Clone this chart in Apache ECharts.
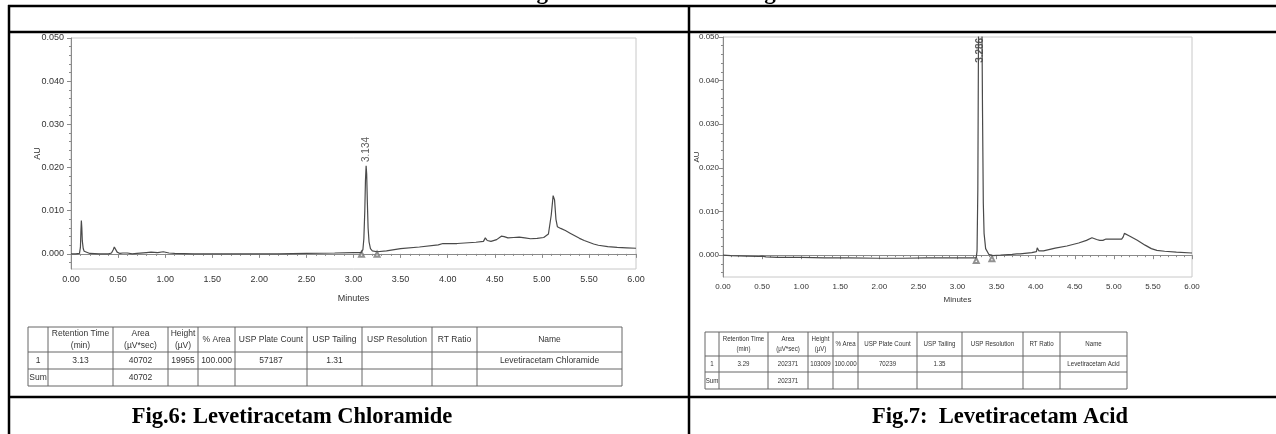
<!DOCTYPE html>
<html><head><meta charset="utf-8">
<script src="https://cdn.jsdelivr.net/npm/echarts@6/dist/echarts.min.js"></script>
<style>html,body{margin:0;padding:0;background:#fff}#c{width:1276px;height:434px}</style>
</head><body><div id="c"></div>
<script>
// ---------- DATA ----------
const leftTrace = [[0.00,0.0000],[0.05,0.0000],[0.09,0.0001],[0.10,0.0015],[0.105,0.0050],[0.11,0.0077],[0.115,0.0060],[0.12,0.0030],[0.13,0.0012],[0.14,0.0006],[0.16,0.0003],[0.20,0.0001],[0.30,0.0000],[0.40,0.0000],[0.43,0.0002],[0.45,0.0010],[0.46,0.0016],[0.47,0.0012],[0.49,0.0004],[0.52,0.0001],[0.55,0.0002],[0.57,0.0004],[0.60,0.0002],[0.65,0.0000],[0.70,0.0001],[0.80,0.0003],[0.85,0.0004],[0.92,0.0003],[0.98,0.0005],[1.00,0.0005],[1.04,0.0002],[1.10,0.0001],[1.30,0.0000],[1.60,0.0000],[1.90,0.0000],[2.20,0.0000],[2.50,0.0001],[2.80,0.0002],[3.00,0.0003],[3.08,0.0003],[3.10,0.0010],[3.11,0.0035],[3.12,0.0100],[3.127,0.0170],[3.134,0.0204],[3.14,0.0185],[3.147,0.0120],[3.155,0.0060],[3.165,0.0028],[3.18,0.0012],[3.20,0.0007],[3.25,0.0005],[3.35,0.0007],[3.50,0.0012],[3.70,0.0016],[3.90,0.0021],[3.95,0.0024],[3.97,0.0022],[4.10,0.0024],[4.30,0.0027],[4.38,0.0029],[4.40,0.0037],[4.42,0.0031],[4.46,0.0029],[4.52,0.0033],[4.57,0.0041],[4.60,0.0040],[4.64,0.0037],[4.70,0.0038],[4.76,0.0039],[4.82,0.0037],[4.88,0.0035],[4.95,0.0036],[5.02,0.0038],[5.07,0.0046],[5.10,0.0090],[5.12,0.0135],[5.135,0.0125],[5.15,0.0080],[5.165,0.0063],[5.20,0.0059],[5.25,0.0054],[5.30,0.0048],[5.35,0.0042],[5.40,0.0036],[5.45,0.0031],[5.50,0.0027],[5.55,0.0023],[5.60,0.0020],[5.70,0.0017],[5.80,0.0015],[5.90,0.0014],[6.00,0.0013]];
const rightTrace = [[0.00,0.0000],[0.10,-0.0001],[0.30,-0.0002],[0.46,-0.0003],[0.48,0.0001],[0.50,-0.0002],[0.55,-0.0004],[0.70,-0.0005],[1.00,-0.0005],[1.30,-0.0006],[1.60,-0.0006],[2.00,-0.0007],[2.30,-0.0007],[2.60,-0.0006],[3.00,-0.0006],[3.20,-0.0006],[3.24,-0.0006],[3.25,0.0010],[3.26,0.0150],[3.27,0.0560],[3.28,0.0950],[3.286,0.1030],[3.29,0.1010],[3.30,0.0880],[3.31,0.0600],[3.32,0.0330],[3.33,0.0120],[3.34,0.0050],[3.36,0.0015],[3.40,0.0002],[3.45,-0.0001],[3.55,0.0000],[3.70,0.0002],[3.76,0.0003],[3.78,0.0006],[3.80,0.0003],[3.95,0.0006],[4.01,0.0008],[4.02,0.0017],[4.04,0.0010],[4.10,0.0010],[4.25,0.0016],[4.40,0.0021],[4.55,0.0028],[4.65,0.0034],[4.72,0.0040],[4.78,0.0036],[4.82,0.0034],[4.86,0.0034],[4.90,0.0037],[5.00,0.0037],[5.10,0.0037],[5.12,0.0042],[5.135,0.0050],[5.20,0.0044],[5.30,0.0034],[5.40,0.0023],[5.48,0.0015],[5.55,0.0011],[5.65,0.0009],[5.80,0.0007],[6.00,0.0005]];
const leftPeakLabel = [[3.134, 0.0207]];
const rightPeakLabel = [[3.286, 0.0435]];
const leftMarks = [[3.085, -0.0001], [3.25, -0.0001]];
const rightMarks = [[3.24, -0.0012], [3.44, -0.0008]];
const yMajorTicks = [0, 0.01, 0.02, 0.03, 0.04, 0.05];
const yMinorTicksL = [-0.002, 0.002, 0.004, 0.006, 0.008, 0.012, 0.014, 0.016, 0.018, 0.022, 0.024, 0.026, 0.028, 0.032, 0.034, 0.036, 0.038, 0.042, 0.044, 0.046, 0.048];
const yMinorTicksR = [-0.004, -0.002, 0.002, 0.004, 0.006, 0.008, 0.012, 0.014, 0.016, 0.018, 0.022, 0.024, 0.026, 0.028, 0.032, 0.034, 0.036, 0.038, 0.042, 0.044, 0.046, 0.048];
const tableHeader = ["", "Retention Time\n(min)", "Area\n(\u00b5V*sec)", "Height\n(\u00b5V)", "% Area", "USP Plate Count", "USP Tailing", "USP Resolution", "RT Ratio", "Name"];
const leftRow = ["1", "3.13", "40702", "19955", "100.000", "57187", "1.31", "", "", "Levetiracetam Chloramide"];
const leftSum = ["Sum", "", "40702", "", "", "", "", "", "", ""];
const rightRow = ["1", "3.29", "202371", "103009", "100.000", "70239", "1.35", "", "", "Levetiracetam Acid"];
const rightSum = ["Sum", "", "202371", "", "", "", "", "", "", ""];
const captions = ["Fig.6: Levetiracetam Chloramide", "Fig.7:  Levetiracetam Acid"];
const topTitle = "Figure: HPLC Chromatograms";

// ---------- LAYOUT ----------
const LCOLS = [28, 48, 113, 168, 198, 235, 307, 362, 432, 477, 622];
const LROWS = [327, 352, 369, 386];
const RCOLS = [705, 719, 768, 808, 833, 858, 917, 962, 1023, 1060, 1127];
const RROWS = [332, 356, 372, 389];

function table(cols, rows, data, font, fs, sx) {
  const els = [];
  const stroke = '#666';
  for (const y of rows) els.push({type:'line', shape:{x1:cols[0], y1:y, x2:cols[cols.length-1], y2:y}, style:{stroke, lineWidth:1}});
  for (const x of cols) els.push({type:'line', shape:{x1:x, y1:rows[0], x2:x, y2:rows[rows.length-1]}, style:{stroke, lineWidth:1}});
  data.forEach((row, r) => {
    row.forEach((t, c) => {
      if (!t) return;
      els.push({type:'text', x:(cols[c]+cols[c+1])/2, y:(rows[r]+rows[r+1])/2, scaleX:sx,
        style:{text:t, fill:'#333', font: font, align:'center', verticalAlign:'middle', lineHeight: fs+3}});
    });
  });
  return els;
}

const frame = [
  [8, 6, 1276, 6], [8, 32, 1276, 32], [8, 397, 1276, 397], [9, 5, 9, 434], [689, 6, 689, 434]
].map(s => ({type:'line', shape:{x1:s[0], y1:s[1], x2:s[2], y2:s[3]}, style:{stroke:'#000', lineWidth:2.5}}));

const axisColor = '#8a8a8a';
function xAx(gi, gap, fs) {
  return {type:'value', gridIndex:gi, min:0, max:6, interval:0.5, name:'Minutes', nameLocation:'middle', nameGap:gap,
    nameMoveOverlap:false,
    nameTextStyle:{fontSize:fs, color:'#333', fontFamily:'Liberation Sans'},
    axisLine:{lineStyle:{color:axisColor}}, axisTick:{length:4, lineStyle:{color:axisColor}},
    minorTick:{show:true, splitNumber:5, length:2, lineStyle:{color:axisColor}},
    axisLabel:{fontSize:fs, color:'#333', margin:6, fontFamily:'Liberation Sans', formatter: v => v.toFixed(2)},
    splitLine:{show:false}, minorSplitLine:{show:false}};
}
function yAx(gi, min, gap, fs, margin) {
  return {type:'value', gridIndex:gi, min:min, max:0.05, name:'AU', nameLocation:'middle', nameGap:gap,
    nameMoveOverlap:false,
    nameTextStyle:{fontSize:fs, color:'#333', fontFamily:'Liberation Sans'},
    axisLine:{show:true, lineStyle:{color:axisColor}},
    axisTick:{show:true, length:4, customValues:yMajorTicks, lineStyle:{color:axisColor}},
    axisLabel:{fontSize:fs, color:'#333', margin:margin, fontFamily:'Liberation Sans', customValues:yMajorTicks, formatter: v => v.toFixed(3)},
    splitLine:{show:false}};
}
function yMinor(gi, min, ticks) {
  return {type:'value', gridIndex:gi, min:min, max:0.05, position:'left',
    axisLine:{show:false}, axisTick:{show:true, length:2, customValues:ticks, lineStyle:{color:axisColor}},
    axisLabel:{show:false}, splitLine:{show:false}};
}
const lineStyle = {color:'#4a4a4a', width:1.2};
const peakLabel = (fs, fw) => ({show:true, position:'top', distance:2, rotate:90, align:'left', verticalAlign:'middle',
  fontSize:fs, fontWeight:fw, color:'#333', fontFamily:'Liberation Sans', formatter: p => p.value[0].toFixed(3)});

const chart = echarts.init(document.getElementById('c'), null, {renderer:'canvas'});
chart.setOption({
  animation:false,
  grid:[
    {left:71, top:38, width:565, height:231, show:true, borderColor:'#c8c8c8', borderWidth:1, backgroundColor:'transparent'},
    {left:723, top:37, width:469, height:240, show:true, borderColor:'#c8c8c8', borderWidth:1, backgroundColor:'transparent'}
  ],
  xAxis:[xAx(0, 25, 9), xAx(1, 19, 8)],
  yAxis:[yAx(0, -0.0035, 29, 9, 7), yMinor(0, -0.0035, yMinorTicksL), yAx(1, -0.005, 22, 8, 4), yMinor(1, -0.005, yMinorTicksR)],
  series:[
    {type:'line', xAxisIndex:0, yAxisIndex:0, data:leftTrace, showSymbol:false, lineStyle, clip:true},
    {type:'line', xAxisIndex:1, yAxisIndex:2, data:rightTrace, showSymbol:false, lineStyle, clip:true},
    {type:'scatter', xAxisIndex:0, yAxisIndex:0, data:leftMarks, symbol:'emptyTriangle', symbolSize:5, itemStyle:{color:'#777', borderWidth:0.8}},
    {type:'scatter', xAxisIndex:1, yAxisIndex:2, data:rightMarks, symbol:'emptyTriangle', symbolSize:5, itemStyle:{color:'#777', borderWidth:0.8}},
    {type:'scatter', xAxisIndex:0, yAxisIndex:0, data:leftPeakLabel, symbolSize:1, itemStyle:{color:'rgba(0,0,0,0)'}, label:peakLabel(10, 'normal')},
    {type:'scatter', xAxisIndex:1, yAxisIndex:2, data:rightPeakLabel, symbolSize:1, itemStyle:{color:'rgba(0,0,0,0)'}, label:peakLabel(10, 'bold')}
  ],
  graphic:[
    ...frame,
    {type:'text', x:516, y:5, style:{text:topTitle, font:'bold 23px "Liberation Serif"', fill:'#000', align:'left', verticalAlign:'bottom'}},
    ...table(LCOLS, LROWS, [tableHeader, leftRow, leftSum], '8.5px "Liberation Sans"', 8.5, 1),
    ...table(RCOLS, RROWS, [tableHeader, rightRow, rightSum], '7.5px "Liberation Sans"', 7.5, 0.82),
    {type:'text', x:292, y:417, style:{text:captions[0], font:'bold 22.5px "Liberation Serif"', fill:'#000', align:'center', verticalAlign:'middle'}},
    {type:'text', x:1000, y:417, style:{text:captions[1], font:'bold 22.5px "Liberation Serif"', fill:'#000', align:'center', verticalAlign:'middle'}}
  ]
});
</script></body></html>
